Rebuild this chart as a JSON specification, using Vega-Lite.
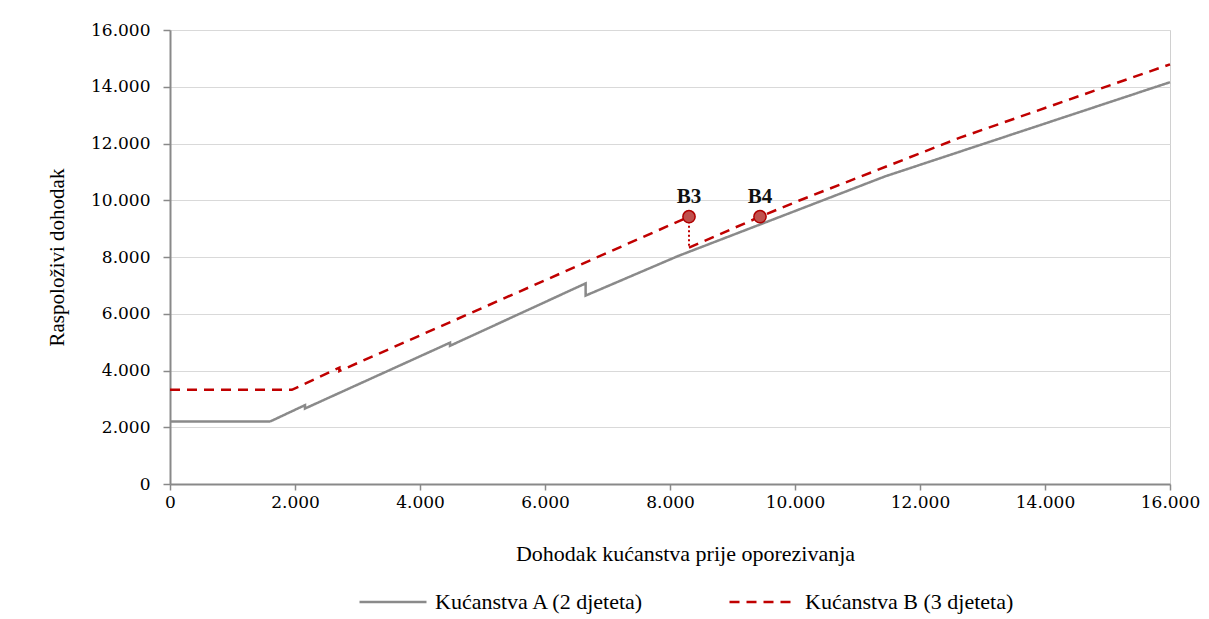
{
  "$schema": "https://vega.github.io/schema/vega-lite/v6.json",
  "width": 1000,
  "height": 454,
  "autosize": {"type": "none"},
  "padding": {"left": 170, "top": 30, "right": 39, "bottom": 135},
  "background": "white",
  "config": {
    "view": {"stroke": "#d0d0d0", "strokeWidth": 1},
    "font": "Liberation Serif"
  },
  "datasets": {
    "lines": [
      {"serija": "Kućanstva A (2 djeteta)", "seg": "A", "i": 1, "dohodak": 0, "raspolozivi": 2200},
      {"serija": "Kućanstva A (2 djeteta)", "seg": "A", "i": 2, "dohodak": 1600, "raspolozivi": 2200},
      {"serija": "Kućanstva A (2 djeteta)", "seg": "A", "i": 3, "dohodak": 2160, "raspolozivi": 2780},
      {"serija": "Kućanstva A (2 djeteta)", "seg": "A", "i": 4, "dohodak": 2160, "raspolozivi": 2660},
      {"serija": "Kućanstva A (2 djeteta)", "seg": "A", "i": 5, "dohodak": 4480, "raspolozivi": 4980},
      {"serija": "Kućanstva A (2 djeteta)", "seg": "A", "i": 6, "dohodak": 4480, "raspolozivi": 4870},
      {"serija": "Kućanstva A (2 djeteta)", "seg": "A", "i": 7, "dohodak": 6650, "raspolozivi": 7070},
      {"serija": "Kućanstva A (2 djeteta)", "seg": "A", "i": 8, "dohodak": 6650, "raspolozivi": 6640},
      {"serija": "Kućanstva A (2 djeteta)", "seg": "A", "i": 9, "dohodak": 8130, "raspolozivi": 8035},
      {"serija": "Kućanstva A (2 djeteta)", "seg": "A", "i": 10, "dohodak": 11440, "raspolozivi": 10840},
      {"serija": "Kućanstva A (2 djeteta)", "seg": "A", "i": 11, "dohodak": 16000, "raspolozivi": 14160},
      {"serija": "Kućanstva B (3 djeteta)", "seg": "B1", "i": 1, "dohodak": 0, "raspolozivi": 3320},
      {"serija": "Kućanstva B (3 djeteta)", "seg": "B1", "i": 2, "dohodak": 1950, "raspolozivi": 3320},
      {"serija": "Kućanstva B (3 djeteta)", "seg": "B1", "i": 3, "dohodak": 2710, "raspolozivi": 4100},
      {"serija": "Kućanstva B (3 djeteta)", "seg": "B1", "i": 4, "dohodak": 2710, "raspolozivi": 3980},
      {"serija": "Kućanstva B (3 djeteta)", "seg": "B1", "i": 5, "dohodak": 8304, "raspolozivi": 9420},
      {"serija": "Kućanstva B (3 djeteta)", "seg": "B2", "i": 6, "dohodak": 8304, "raspolozivi": 8330},
      {"serija": "Kućanstva B (3 djeteta)", "seg": "B2", "i": 7, "dohodak": 9440, "raspolozivi": 9420},
      {"serija": "Kućanstva B (3 djeteta)", "seg": "B2", "i": 8, "dohodak": 10080, "raspolozivi": 10000},
      {"serija": "Kućanstva B (3 djeteta)", "seg": "B2", "i": 9, "dohodak": 12640, "raspolozivi": 12205},
      {"serija": "Kućanstva B (3 djeteta)", "seg": "B2", "i": 10, "dohodak": 16000, "raspolozivi": 14790}
    ],
    "drop": [
      {"dohodak": 8304, "od": 9420, "do": 8330}
    ],
    "tocke": [
      {"oznaka": "B3", "dohodak": 8304, "raspolozivi": 9420},
      {"oznaka": "B4", "dohodak": 9440, "raspolozivi": 9420}
    ]
  },
  "layer": [
    {
      "data": {"name": "lines"},
      "mark": {"type": "line", "strokeWidth": 2.5, "strokeCap": "butt"},
      "encoding": {
        "x": {
          "field": "dohodak", "type": "quantitative",
          "scale": {"domain": [0, 16000], "nice": false},
          "axis": {
            "values": [0, 2000, 4000, 6000, 8000, 10000, 12000, 14000, 16000],
            "labelExpr": "replace(format(datum.value, ',d'), ',', '.')",
            "grid": false,
            "domainColor": "#898989", "domainWidth": 2,
            "tickColor": "#898989", "tickSize": 6, "tickWidth": 1.5,
            "labelFont": "DejaVu Serif", "labelFontSize": 17, "labelColor": "black",
            "labelPadding": 4, "labelFlush": false, "labelOverlap": false,
            "title": "Dohodak kućanstva prije oporezivanja",
            "titleFont": "Liberation Serif", "titleFontSize": 22, "titleFontWeight": "normal",
            "titleColor": "black", "titleX": 515, "titleY": 69, "titleBaseline": "middle", "titleAlign": "center"
          }
        },
        "y": {
          "field": "raspolozivi", "type": "quantitative",
          "scale": {"domain": [0, 16000], "nice": false},
          "axis": {
            "values": [0, 2000, 4000, 6000, 8000, 10000, 12000, 14000, 16000],
            "labelExpr": "replace(format(datum.value, ',d'), ',', '.')",
            "grid": true, "gridColor": "#d9d9d9", "gridWidth": 1,
            "domainColor": "#898989", "domainWidth": 2,
            "tickColor": "#898989", "tickSize": 7, "tickWidth": 1.5,
            "labelFont": "DejaVu Serif", "labelFontSize": 17, "labelColor": "black",
            "labelPadding": 13,
            "title": "Raspoloživi dohodak",
            "titleFont": "Liberation Serif", "titleFontSize": 21, "titleFontWeight": "normal",
            "titleColor": "black", "titleX": -113, "titleY": 227, "titleBaseline": "middle", "titleAlign": "center", "titleAngle": -90
          }
        },
        "color": {
          "field": "serija", "type": "nominal",
          "scale": {"domain": ["Kućanstva A (2 djeteta)", "Kućanstva B (3 djeteta)"], "range": ["#8a8a8a", "#c00000"]},
          "legend": {
            "orient": "none", "legendX": 188, "legendY": 537, "direction": "horizontal",
            "title": null, "symbolType": "stroke", "symbolSize": 4489, "symbolStrokeWidth": 2.5,
            "labelFont": "Liberation Serif", "labelFontSize": 22, "labelColor": "black",
            "columnPadding": 79, "labelOffset": 7, "padding": 0, "labelLimit": 400
          }
        },
        "strokeDash": {
          "field": "serija", "type": "nominal",
          "scale": {"domain": ["Kućanstva A (2 djeteta)", "Kućanstva B (3 djeteta)"], "range": [[1, 0], [10, 7]]},
          "legend": {
            "orient": "none", "legendX": 188, "legendY": 537, "direction": "horizontal",
            "title": null, "symbolType": "stroke", "symbolSize": 4489, "symbolStrokeWidth": 2.5,
            "labelFont": "Liberation Serif", "labelFontSize": 22, "labelColor": "black",
            "columnPadding": 79, "labelOffset": 7, "padding": 0, "labelLimit": 400
          }
        },
        "detail": {"field": "seg", "type": "nominal"},
        "order": {"field": "i", "type": "quantitative"}
      }
    },
    {
      "data": {"name": "drop"},
      "mark": {"type": "rule", "color": "#c00000", "strokeWidth": 2, "strokeDash": [2, 2.5]},
      "encoding": {
        "x": {"field": "dohodak", "type": "quantitative"},
        "y": {"field": "od", "type": "quantitative"},
        "y2": {"field": "do"}
      }
    },
    {
      "data": {"name": "tocke"},
      "mark": {"type": "point", "shape": "circle", "filled": true, "fill": "#c0504d", "stroke": "#b00000", "strokeWidth": 1.5, "size": 150, "opacity": 1},
      "encoding": {
        "x": {"field": "dohodak", "type": "quantitative"},
        "y": {"field": "raspolozivi", "type": "quantitative"}
      }
    },
    {
      "data": {"name": "tocke"},
      "mark": {"type": "text", "dy": -20, "fontWeight": "bold", "fontSize": 21, "font": "Liberation Serif", "color": "#111111", "baseline": "middle", "align": "center"},
      "encoding": {
        "x": {"field": "dohodak", "type": "quantitative"},
        "y": {"field": "raspolozivi", "type": "quantitative"},
        "text": {"field": "oznaka"}
      }
    }
  ]
}
